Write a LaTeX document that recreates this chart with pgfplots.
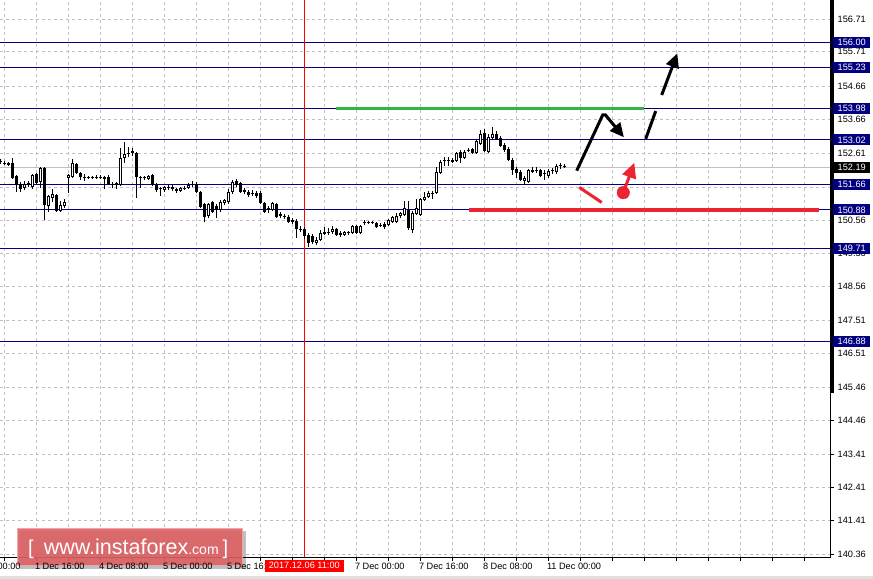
\documentclass[border=0pt]{standalone}
\usepackage{pgfplots}
\pgfplotsset{compat=1.18}
\usepackage{pgfplotstable}
\usepackage{fontspec}
\setmainfont{Liberation Sans}
\usetikzlibrary{arrows.meta}
\definecolor{navyc}{RGB}{0,0,128}
\definecolor{gridc}{RGB}{192,192,192}
\definecolor{lgreen}{RGB}{50,180,70}
\definecolor{lred}{RGB}{235,35,50}
\definecolor{wm}{RGB}{222,96,100}
\newcommand\mtfont{\fontsize{9.2bp}{11bp}\selectfont}

\pgfplotstableread{
n O H L C
-1 152.38 152.44 152.29 152.35
0 152.32 152.38 152.26 152.29
1 152.32 152.35 152.23 152.26
2 152.32 152.47 151.83 151.86
3 151.92 151.95 151.43 151.65
4 151.68 151.74 151.43 151.53
5 151.56 151.77 151.49 151.68
6 151.65 151.77 151.59 151.71
7 151.59 151.98 151.53 151.95
8 151.98 152.01 151.68 151.71
9 151.74 152.20 151.56 152.17
10 152.17 152.20 150.58 151.04
11 151.01 151.34 150.82 151.31
12 151.25 151.53 151.13 151.37
13 151.34 151.37 150.82 150.85
14 150.85 151.16 150.82 151.04
15 151.01 151.22 150.95 151.13
16 151.86 151.98 151.40 151.95
17 151.89 152.44 151.86 152.32
18 152.29 152.32 151.98 152.01
19 152.01 152.05 151.80 151.89
20 151.89 151.98 151.77 151.86
21 151.86 151.92 151.83 151.89
22 151.89 151.92 151.83 151.86
23 151.86 151.95 151.83 151.89
24 151.89 151.95 151.83 151.86
25 151.89 151.92 151.53 151.83
26 151.89 151.95 151.65 151.68
27 151.68 151.74 151.56 151.65
28 151.71 151.74 151.53 151.65
29 151.65 152.78 151.62 152.47
30 152.47 152.96 152.32 152.59
31 152.62 152.81 152.50 152.59
32 152.62 152.78 152.53 152.68
33 152.62 152.65 151.25 151.89
34 151.89 151.92 151.56 151.86
35 151.86 151.92 151.80 151.89
36 151.83 151.95 151.80 151.92
37 151.95 151.98 151.62 151.65
38 151.65 151.71 151.43 151.49
39 151.56 151.59 151.31 151.53
40 151.49 151.62 151.43 151.59
41 151.59 151.65 151.49 151.56
42 151.59 151.65 151.46 151.53
43 151.53 151.56 151.40 151.46
44 151.46 151.59 151.43 151.56
45 151.56 151.62 151.49 151.53
46 151.56 151.71 151.53 151.65
47 151.65 151.77 151.59 151.68
48 151.68 151.74 151.40 151.43
49 151.43 151.46 150.95 150.98
50 151.07 151.10 150.52 150.67
51 150.70 151.10 150.64 151.07
52 151.13 151.16 150.79 150.82
53 151.01 151.07 150.64 150.88
54 150.88 151.19 150.82 151.13
55 151.10 151.22 151.04 151.19
56 151.13 151.53 151.07 151.43
57 151.43 151.80 151.37 151.74
58 151.77 151.83 151.59 151.65
59 151.71 151.74 151.40 151.43
60 151.49 151.56 151.37 151.43
61 151.43 151.49 151.28 151.34
62 151.40 151.49 151.31 151.37
63 151.40 151.46 151.25 151.31
64 151.40 151.46 151.07 151.10
65 151.10 151.13 150.79 150.82
66 150.95 151.01 150.79 150.88
67 150.88 151.13 150.85 151.10
68 151.07 151.10 150.64 150.67
69 150.76 150.82 150.64 150.70
70 150.70 150.76 150.61 150.67
71 150.67 150.73 150.49 150.52
72 150.58 150.64 150.46 150.52
73 150.55 150.61 150.03 150.31
74 150.31 150.40 150.21 150.27
75 150.31 150.37 150.00 150.09
76 150.12 150.18 149.76 149.88
77 150.09 150.15 149.85 149.91
78 149.88 150.06 149.82 149.97
79 149.97 150.27 149.94 150.18
80 150.15 150.37 150.12 150.21
81 150.18 150.34 150.12 150.21
82 150.21 150.40 150.15 150.31
83 150.31 150.34 150.09 150.12
84 150.18 150.24 150.06 150.12
85 150.12 150.24 150.09 150.21
86 150.21 150.24 150.12 150.18
87 150.18 150.43 150.15 150.40
88 150.40 150.43 150.15 150.18
89 150.18 150.43 150.15 150.40
90 150.52 150.58 150.43 150.49
91 150.49 150.55 150.46 150.52
92 150.52 150.55 150.46 150.49
93 150.49 150.52 150.34 150.37
94 150.43 150.49 150.37 150.40
95 150.46 150.52 150.31 150.37
96 150.43 150.61 150.40 150.58
97 150.52 150.70 150.49 150.67
98 150.52 150.79 150.49 150.70
99 150.70 150.82 150.64 150.79
100 150.73 151.16 150.70 150.95
101 150.88 151.16 150.27 150.34
102 150.27 150.85 150.18 150.79
103 150.76 151.22 150.73 150.95
104 150.73 151.25 150.70 151.22
105 151.19 151.43 151.16 151.28
106 151.28 151.46 151.25 151.40
107 151.37 151.46 151.22 151.40
108 151.40 152.20 151.37 152.05
109 152.01 152.41 151.98 152.35
110 152.38 152.50 152.23 152.41
111 152.38 152.50 152.23 152.41
112 152.41 152.47 152.32 152.35
113 152.38 152.65 152.35 152.62
114 152.65 152.71 152.32 152.47
115 152.47 152.71 152.44 152.65
116 152.71 152.78 152.65 152.68
117 152.75 152.78 152.59 152.62
118 152.62 153.05 152.59 152.99
119 152.90 153.32 152.87 153.20
120 153.23 153.36 152.65 152.68
121 152.65 153.20 152.62 153.11
122 153.08 153.42 153.05 153.20
123 153.20 153.29 153.02 153.05
124 153.08 153.14 152.81 152.84
125 152.87 152.93 152.65 152.71
126 152.75 152.81 152.38 152.41
127 152.41 152.47 151.95 152.11
128 152.14 152.20 151.86 152.01
129 152.05 152.11 151.77 151.80
130 151.77 151.92 151.65 151.86
131 151.74 152.14 151.71 152.11
132 152.11 152.20 152.01 152.05
133 152.11 152.20 152.01 152.08
134 152.11 152.14 151.89 151.92
135 151.98 152.11 151.80 152.01
136 151.92 152.14 151.86 152.08
137 152.08 152.17 151.98 152.11
138 152.05 152.29 151.98 152.23
139 152.23 152.32 152.14 152.26
140 152.23 152.29 152.17 152.19
}\candles

\begin{document}
\begin{tikzpicture}
\useasboundingbox (0bp,0bp) rectangle (873bp,-579bp);
\fill[white] (0bp,0bp) rectangle (873bp,-579bp);
\begin{axis}[
  at={(0bp,0bp)}, anchor=north west,
  scale only axis, width=830bp, height=557bp,
  xmin=-1.075, xmax=206.425, ymin=140.2876, ymax=157.29,
  axis line style={draw=none},
  tick align=outside, major tick length=4bp,
  tick style={black, line width=0.8bp},
  xtick pos=left, ytick pos=right, yticklabel pos=right,
  xtick={0,8,...,200},
  xticklabels={{}},
  ytick={140.36,141.41,142.41,143.41,144.46,145.46,146.51,147.51,148.56,149.56,150.56,151.56,152.61,153.66,154.66,155.71,156.71},
  yticklabels={140.36,141.41,142.41,143.41,144.46,145.46,146.51,147.51,148.56,149.56,150.56,,152.61,153.66,154.66,155.71,156.71},
  grid=major,
  grid style={gridc, line width=0.8bp, dash pattern=on 3bp off 3bp},
  ticklabel style={font=\mtfont, text=black},
  yticklabel style={anchor=west, inner sep=0pt, xshift=3.5bp},
  clip=true,
]
% support/resistance lines
\addplot[gridc, line width=1bp, forget plot] coordinates {(-1.075,152.19) (206.425,152.19)};
\addplot[navyc, line width=1bp, forget plot] coordinates {(-1.075,156.00) (206.425,156.00)};
\addplot[navyc, line width=1bp, forget plot] coordinates {(-1.075,155.23) (206.425,155.23)};
\addplot[navyc, line width=1bp, forget plot] coordinates {(-1.075,153.98) (206.425,153.98)};
\addplot[navyc, line width=1bp, forget plot] coordinates {(-1.075,153.02) (206.425,153.02)};
\addplot[navyc, line width=1bp, forget plot] coordinates {(-1.075,151.66) (206.425,151.66)};
\addplot[navyc, line width=1bp, forget plot] coordinates {(-1.075,150.88) (206.425,150.88)};
\addplot[navyc, line width=1bp, forget plot] coordinates {(-1.075,149.71) (206.425,149.71)};
\addplot[navyc, line width=1bp, forget plot] coordinates {(-1.075,146.88) (206.425,146.88)};
% vertical marker
\addplot[red, line width=1bp, forget plot] coordinates {(75,140.2876) (75,157.29)};
% wicks
\addplot[draw=none, mark=none, forget plot, error bars/.cd, y dir=plus, y explicit, error mark=none,
  error bar style={draw=black, solid, line width=1bp}]
  table[x=n, y=L, y error plus expr={\thisrow{H}-\thisrow{L}}] {\candles};
% bodies
\addplot[draw=none, mark=none, forget plot, error bars/.cd, y dir=plus, y explicit, error mark=none,
  error bar style={draw=black, solid, line width=3bp}]
  table[x=n, y expr={min(\thisrow{O},\thisrow{C})}, y error plus expr={max(abs(\thisrow{C}-\thisrow{O}),0.0305)}] {\candles};
% hollow bullish bodies
\addplot[draw=none, mark=none, forget plot, error bars/.cd, y dir=plus, y explicit, error mark=none,
  error bar style={draw=white, solid, line width=1bp}]
  table[x=n, y expr={min(\thisrow{O},\thisrow{C})+0.0305}, y error plus expr={(\thisrow{C}>\thisrow{O}) ? max(\thisrow{C}-\thisrow{O}-0.061,0) : 0}] {\candles};
% drawn levels
\addplot[lgreen, line width=3.5bp, forget plot] coordinates {(82.9,153.98) (159.9,153.98)};
\addplot[lred, line width=3.5bp, forget plot] coordinates {(116.2,150.88) (203.7,150.88)};
\addplot[lred, line width=3bp, forget plot] coordinates {(143.75,151.57) (149.35,151.11)};
\addplot[lred, line width=3bp, forget plot, -{Triangle[length=15bp,width=14bp]}] coordinates {(154.75,151.41) (157.5,152.32)};
\addplot[lred, only marks, mark=*, mark size=6.3bp, forget plot] coordinates {(154.75,151.41)};
\addplot[black, line width=3bp, forget plot, -{Triangle[length=14bp,width=13bp]}] coordinates {(143.1,152.08) (149.6,153.78) (150.3,153.78) (154.9,153.10)};
\addplot[black, line width=3bp, forget plot] coordinates {(160.35,153.05) (162.85,153.90)};
\addplot[black, line width=3bp, forget plot, -{Triangle[length=14bp,width=13bp]}] coordinates {(164.35,154.39) (168.25,155.66)};
% anchors for price boxes
\coordinate (b1) at (axis cs:206.425,156.00);
\coordinate (b2) at (axis cs:206.425,155.23);
\coordinate (b3) at (axis cs:206.425,153.98);
\coordinate (b4) at (axis cs:206.425,153.02);
\coordinate (b5) at (axis cs:206.425,151.66);
\coordinate (b6) at (axis cs:206.425,150.88);
\coordinate (b7) at (axis cs:206.425,149.71);
\coordinate (b8) at (axis cs:206.425,146.88);
\coordinate (b9) at (axis cs:206.425,152.19);
\coordinate (tm8) at (axis cs:-8,140.2876);
\coordinate (t8) at (axis cs:8,140.2876);
\coordinate (t24) at (axis cs:24,140.2876);
\coordinate (t40) at (axis cs:40,140.2876);
\coordinate (t56) at (axis cs:56,140.2876);
\coordinate (t88) at (axis cs:88,140.2876);
\coordinate (t104) at (axis cs:104,140.2876);
\coordinate (t120) at (axis cs:120,140.2876);
\coordinate (t136) at (axis cs:136,140.2876);
\coordinate (d2) at (axis cs:75,140.2876);
\end{axis}
% axis frame
\draw[black, line width=1bp] (0bp,-557.5bp) -- (830.5bp,-557.5bp) -- (830.5bp,0bp);
\draw[black, line width=4bp] (831.5bp,0bp) -- (831.5bp,-393bp);
% price boxes
\foreach \c/\t in {b1/156.00,b2/155.23,b3/153.98,b4/153.02,b5/151.66,b6/150.88,b7/149.71,b8/146.88}
  \node[fill=navyc, text=white, anchor=west, minimum width=37bp, minimum height=11bp, inner sep=0pt, font=\mtfont] at ([xshift=3bp]\c) {\t};
\node[fill=black, text=white, anchor=west, minimum width=37bp, minimum height=11bp, inner sep=0pt, font=\mtfont] at ([xshift=3bp]b9) {152.19};
% watermark
\fill[black, opacity=0.25] (20bp,-531bp) rectangle (246bp,-569bp);
\fill[wm, opacity=0.9] (17bp,-528bp) rectangle (243bp,-566bp);
\draw[white, opacity=0.4, line width=1bp] (17.5bp,-528.5bp) rectangle (242.5bp,-565.5bp);
\node[anchor=base west, inner sep=0pt, text=white] at (28bp,-554bp)
  {\fontsize{20bp}{20bp}\selectfont [\hspace{10bp}\fontsize{21.5bp}{22bp}\selectfont www.instaforex\fontsize{14bp}{14bp}\selectfont.com\hspace{4bp}\fontsize{20bp}{20bp}\selectfont]};
% date labels
\foreach \c/\t in {tm8/{1 Dec 00:00},t8/{1 Dec 16:00},t24/{4 Dec 08:00},t40/{5 Dec 00:00},t56/{5 Dec 16:00},t88/{7 Dec 00:00},t104/{7 Dec 16:00},t120/{8 Dec 08:00},t136/{11 Dec 00:00}}
  \node[anchor=north west, inner sep=0pt, font=\mtfont] at ([xshift=-1.5bp,yshift=-6bp]\c) {\t};
\node[fill=red, text=white, anchor=north, minimum width=79bp, minimum height=12bp, inner sep=0pt, font=\mtfont] at ([yshift=-2.5bp]d2) {2017.12.06 11:00};
% window border
\fill[black!12] (0bp,-576bp) rectangle (873bp,-579bp);
\end{tikzpicture}
\end{document}
